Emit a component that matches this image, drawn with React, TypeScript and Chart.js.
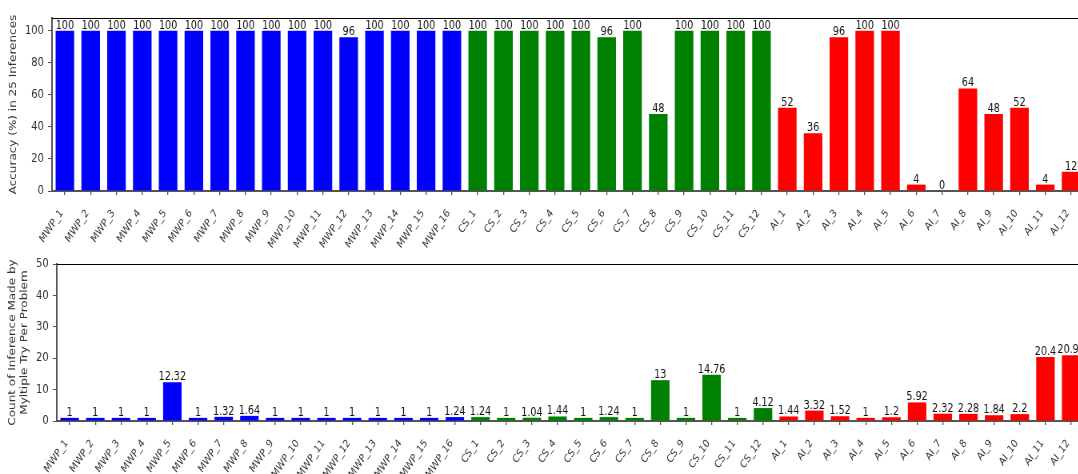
import React, { useEffect, useRef } from 'react';
import { Chart, registerables } from 'chart.js';

Chart.register(...registerables);

const categories = [
  'MWP_1', 'MWP_2', 'MWP_3', 'MWP_4', 'MWP_5', 'MWP_6', 'MWP_7', 'MWP_8',
  'MWP_9', 'MWP_10', 'MWP_11', 'MWP_12', 'MWP_13', 'MWP_14', 'MWP_15', 'MWP_16',
  'CS_1', 'CS_2', 'CS_3', 'CS_4', 'CS_5', 'CS_6', 'CS_7', 'CS_8', 'CS_9', 'CS_10', 'CS_11', 'CS_12',
  'AI_1', 'AI_2', 'AI_3', 'AI_4', 'AI_5', 'AI_6', 'AI_7', 'AI_8', 'AI_9', 'AI_10', 'AI_11', 'AI_12',
];

const accuracy = [
  100, 100, 100, 100, 100, 100, 100, 100, 100, 100, 100, 96, 100, 100, 100, 100,
  100, 100, 100, 100, 100, 96, 100, 48, 100, 100, 100, 100,
  52, 36, 96, 100, 100, 4, 0, 64, 48, 52, 4, 12,
];

const tryCounts = [
  1, 1, 1, 1, 12.32, 1, 1.32, 1.64, 1, 1, 1, 1, 1, 1, 1, 1.24,
  1.24, 1, 1.04, 1.44, 1, 1.24, 1, 13, 1, 14.76, 1, 4.12,
  1.44, 3.32, 1.52, 1, 1.2, 5.92, 2.32, 2.28, 1.84, 2.2, 20.4, 20.92,
];

const accuracyTicks = [0, 20, 40, 60, 80, 100];
const countTicks = [0, 10, 20, 30, 40, 50];
const accuracyMax = 108;
const countMax = 50;
const accuracyTitle = 'Accuracy (%) in 25 Inferences';
const countTitle = ['Count of Inference Made by', 'Myltiple Try Per Problem'];

const groupColors: Record<string, string> = { MWP: '#0000ff', CS: '#008000', AI: '#ff0000' };
const barColors = categories.map((c) => groupColors[c.split('_')[0]]);

const FONT = 'DejaVu Sans';
const CANVAS_W = 1360;
const CSS_W = 1088;

const valueLabels = {
  id: 'valueLabels',
  afterDatasetsDraw(chart: any) {
    const ctx = chart.ctx;
    ctx.save();
    ctx.font = `12px "${FONT}"`;
    ctx.fillStyle = '#111';
    ctx.textAlign = 'center';
    ctx.textBaseline = 'alphabetic';
    const ds = chart.data.datasets[0];
    chart.getDatasetMeta(0).data.forEach((el: any, i: number) => {
      ctx.fillText(String(ds.data[i]), el.x, el.y - 2);
    });
    ctx.restore();
  },
};

const topSpine = {
  id: 'topSpine',
  afterDraw(chart: any) {
    const { ctx, chartArea } = chart;
    ctx.save();
    ctx.strokeStyle = '#000';
    ctx.lineWidth = 1.2;
    ctx.beginPath();
    ctx.moveTo(chartArea.left, chartArea.top + 0.5);
    ctx.lineTo(chartArea.right + 20, chartArea.top + 0.5);
    ctx.stroke();
    ctx.restore();
  },
};

function makeConfig(
  values: number[],
  yMax: number,
  yTicks: number[],
  title: string | string[],
  axisW: number,
  axisH: number,
  padTop: number,
  titlePad: number,
): any {
  return {
    type: 'bar',
    data: {
      labels: categories,
      datasets: [
        {
          data: values,
          backgroundColor: barColors,
          borderWidth: 0,
          barPercentage: 0.72,
          categoryPercentage: 1,
        },
      ],
    },
    plugins: [valueLabels, topSpine],
    options: {
      responsive: false,
      devicePixelRatio: 1,
      animation: false,
      layout: { padding: { left: 0, right: 5, top: padTop, bottom: 0 } },
      plugins: { legend: { display: false }, tooltip: { enabled: false } },
      scales: {
        x: {
          offset: true,
          afterFit: (s: any) => {
            s.height = axisH;
            s.paddingLeft = 0;
            s.paddingRight = 0;
          },
          grid: {
            offset: false,
            drawOnChartArea: false,
            drawTicks: true,
            tickLength: 4,
            color: '#555',
            lineWidth: 1.3,
          },
          border: { display: true, color: '#555', width: 2 },
          ticks: {
            autoSkip: false,
            maxRotation: 50,
            minRotation: 50,
            font: { family: FONT, size: 11 },
            color: '#333',
            padding: 12,
            labelOffset: -4,
          },
        },
        y: {
          min: 0,
          max: yMax,
          afterBuildTicks: (s: any) => {
            s.ticks = yTicks.map((v) => ({ value: v }));
          },
          afterFit: (s: any) => {
            s.width = axisW;
            s.paddingTop = 0;
            s.paddingBottom = 0;
          },
          grid: {
            drawOnChartArea: false,
            drawTicks: true,
            tickLength: 5,
            color: '#555',
            lineWidth: 1,
          },
          border: { display: true, color: '#555', width: 2 },
          ticks: { font: { family: FONT, size: 12.5 }, color: '#333', padding: 5 },
          title: {
            display: true,
            text: title,
            font: { family: FONT, size: 12 },
            color: '#333',
            padding: { top: titlePad, bottom: 0 },
          },
        },
      },
    },
  };
}

export default function App() {
  const topRef = useRef<HTMLCanvasElement>(null);
  const botRef = useRef<HTMLCanvasElement>(null);

  useEffect(() => {
    const c1 = new Chart(
      topRef.current as HTMLCanvasElement,
      makeConfig(accuracy, accuracyMax, accuracyTicks, accuracyTitle, 65, 67, 18, 10),
    );
    const c2 = new Chart(
      botRef.current as HTMLCanvasElement,
      makeConfig(tryCounts, countMax, countTicks, countTitle, 71, 53, 6, 9),
    );
    return () => {
      c1.destroy();
      c2.destroy();
    };
  }, []);

  return (
    <div
      style={{
        position: 'fixed',
        left: 0,
        top: 0,
        width: 1078,
        height: 474,
        overflow: 'hidden',
        background: '#fff',
      }}
    >
      <canvas
        ref={topRef}
        width={CANVAS_W}
        height={258}
        style={{ position: 'absolute', left: 0, top: 0, width: `${CSS_W}px`, height: '258px' }}
      />
      <canvas
        ref={botRef}
        width={CANVAS_W}
        height={216}
        style={{ position: 'absolute', left: 0, top: 258, width: `${CSS_W}px`, height: '216px' }}
      />
    </div>
  );
}
